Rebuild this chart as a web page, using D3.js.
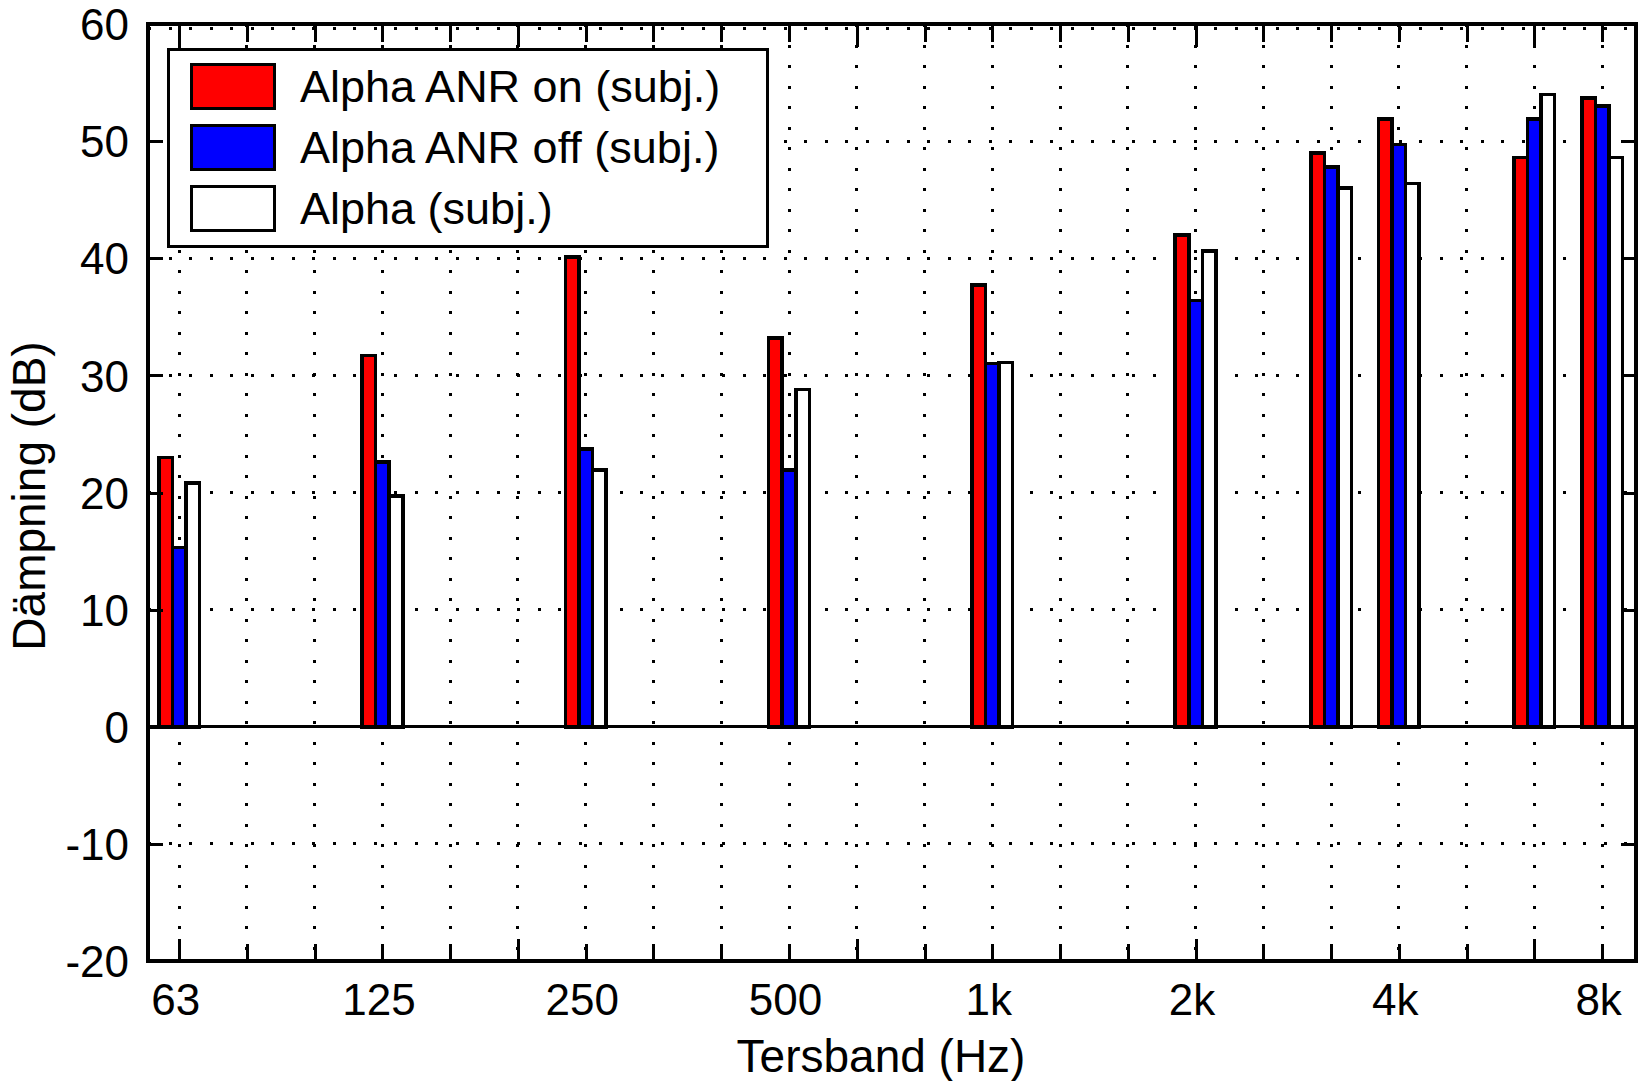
<!DOCTYPE html>
<html>
<head>
<meta charset="utf-8">
<script src="https://cdn.jsdelivr.net/npm/d3@7/dist/d3.min.js"></script>
<style>
  html, body { margin: 0; padding: 0; background: #fff; }
  text { font-family: "Liberation Sans", Arial, sans-serif; fill: #000; }
</style>
</head>
<body>
<script>
// ---------- data ----------
const bands = [63, 125, 250, 500, 1000, 2000, 3150, 4000, 6300, 8000];
const anrOn  = [23.0, 31.7, 40.1, 33.2, 37.7, 42.0, 49.0, 51.9, 48.6, 53.7];
const anrOff = [15.3, 22.6, 23.7, 21.9, 31.0, 36.4, 47.8, 49.7, 51.9, 53.0];
const alpha  = [20.8, 19.7, 21.9, 28.8, 31.1, 40.6, 46.0, 46.4, 54.0, 48.6];
const seriesNames = ["Alpha ANR on (subj.)", "Alpha ANR off (subj.)", "Alpha (subj.)"];
const seriesColors = ["#ff0000", "#0000ff", "#ffffff"];
const thirdOctaves = [63, 80, 100, 125, 160, 200, 250, 315, 400, 500, 630, 800,
                      1000, 1250, 1600, 2000, 2500, 3150, 4000, 5000, 6300, 8000];
const octaveTicks = [63, 125, 250, 500, 1000, 2000, 4000, 8000];
const octaveLabels = ["63", "125", "250", "500", "1k", "2k", "4k", "8k"];
const yTicks = [-20, -10, 0, 10, 20, 30, 40, 50, 60];
const longTicks = [63, 200, 630, 2000, 6300];

// nominal band -> exact third-octave centre
const exact = f => 1000 * Math.pow(2, Math.round(3 * Math.log2(f / 1000)) / 3);

const W = 1641, H = 1081;
const L = 148, R = 1636, T = 24, B = 961;

const svg = d3.select("body").append("svg").attr("width", W).attr("height", H);

const x = d3.scaleLog()
  .domain([1000 * Math.pow(2, -12.46 / 3), 1000 * Math.pow(2, 9.5 / 3)])
  .range([L, R]);
const y = d3.scaleLinear().domain([-20, 60]).range([B, T]);

const step = x(exact(2000)) - x(exact(1600));
const bw = step * 0.2;

// ---------- grid ----------
const grid = svg.append("g").attr("stroke", "#000").attr("stroke-width", 3)
  .attr("stroke-dasharray", "3 17.5").attr("shape-rendering", "crispEdges");
thirdOctaves.forEach(f => {
  grid.append("line").attr("x1", x(exact(f))).attr("x2", x(exact(f)))
    .attr("y1", T).attr("y2", B);
});
yTicks.filter(v => v !== 0 && v !== -20).forEach(v => {
  const yy = v === 60 ? y(v) + 4 : y(v);
  grid.append("line").attr("x1", L).attr("x2", R).attr("y1", yy).attr("y2", yy);
});

// ---------- bars ----------
const allSeries = [anrOn, anrOff, alpha];
const barG = svg.append("g").attr("shape-rendering", "crispEdges");
allSeries.forEach((vals, si) => {
  barG.selectAll(null).data(bands).enter().append("rect")
    .attr("x", (d, i) => x(exact(d)) + (si - 1.5) * bw)
    .attr("width", bw)
    .attr("y", (d, i) => y(vals[i]))
    .attr("height", (d, i) => y(0) - y(vals[i]))
    .attr("fill", seriesColors[si])
    .attr("stroke", "#000").attr("stroke-width", 3.5);
});

// baseline at 0
svg.append("line").attr("x1", L).attr("x2", R).attr("y1", y(0)).attr("y2", y(0))
  .attr("stroke", "#000").attr("stroke-width", 3).attr("shape-rendering", "crispEdges");

// ---------- axes ----------
function styleAxis(g) {
  g.select(".domain").remove();
  g.selectAll(".tick line").attr("stroke", "#000").attr("stroke-width", 3)
    .attr("shape-rendering", "crispEdges");
}
const tickLen = f => longTicks.includes(f) ? 22 : 17;

// bottom ticks (inward)
const bottomAxis = svg.append("g").attr("transform", `translate(0,${B})`)
  .call(d3.axisBottom(x).tickValues(thirdOctaves.map(exact)).tickSizeOuter(0)
        .tickSize(-17).tickFormat(""));
styleAxis(bottomAxis);
bottomAxis.selectAll(".tick line").attr("y2", (d, i) => -tickLen(thirdOctaves[i]));

// top ticks (inward)
const topAxis = svg.append("g").attr("transform", `translate(0,${T})`)
  .call(d3.axisTop(x).tickValues(thirdOctaves.map(exact)).tickSizeOuter(0)
        .tickSize(-17).tickFormat(""));
styleAxis(topAxis);
topAxis.selectAll(".tick line").attr("y2", (d, i) => tickLen(thirdOctaves[i]) + 1);

// bottom labels
const labelAxis = svg.append("g").attr("transform", `translate(-4,${B})`)
  .call(d3.axisBottom(x).tickValues(octaveTicks.map(exact)).tickSize(0)
        .tickFormat((d, i) => octaveLabels[i]));
labelAxis.select(".domain").remove();
labelAxis.selectAll(".tick text").attr("font-size", 44).attr("y", 54).attr("dy", 0)
  .attr("font-family", "'Liberation Sans', Arial, sans-serif").attr("fill", "#000");

// left axis
const leftAxis = svg.append("g").attr("transform", `translate(${L},0)`)
  .call(d3.axisLeft(y).tickValues(yTicks).tickSize(-15).tickSizeOuter(0).tickPadding(0)
        .tickFormat(d => String(d)));
styleAxis(leftAxis);
leftAxis.selectAll(".tick text").attr("font-size", 44).attr("x", -19).attr("dy", "0.355em")
  .attr("font-family", "'Liberation Sans', Arial, sans-serif").attr("fill", "#000");

// right axis
const rightAxis = svg.append("g").attr("transform", `translate(${R},0)`)
  .call(d3.axisRight(y).tickValues(yTicks).tickSize(-15).tickSizeOuter(0).tickFormat(""));
styleAxis(rightAxis);

// frame
svg.append("rect").attr("x", L).attr("y", T).attr("width", R - L).attr("height", B - T)
  .attr("fill", "none").attr("stroke", "#000").attr("stroke-width", 3.5)
  .attr("shape-rendering", "crispEdges");

// ---------- axis titles ----------
svg.append("text").attr("x", 881).attr("y", 1072).attr("text-anchor", "middle")
  .attr("font-size", 46).text("Tersband (Hz)");
svg.append("text").attr("transform", "translate(45,496) rotate(-90)")
  .attr("text-anchor", "middle").attr("font-size", 46).text("Dämpning (dB)");

// ---------- legend ----------
const lg = svg.append("g");
lg.append("rect").attr("x", 168).attr("y", 49).attr("width", 599).attr("height", 197)
  .attr("fill", "#fff").attr("stroke", "#000").attr("stroke-width", 3)
  .attr("shape-rendering", "crispEdges");
const rowC = [86, 147, 208];
seriesNames.forEach((name, i) => {
  lg.append("rect").attr("x", 191.5).attr("y", rowC[i] - 22).attr("width", 83).attr("height", 44)
    .attr("fill", seriesColors[i]).attr("stroke", "#000").attr("stroke-width", 3)
    .attr("shape-rendering", "crispEdges");
  lg.append("text").attr("x", 300).attr("y", rowC[i] + 16).attr("font-size", 45).text(name);
});
</script>
</body>
</html>
